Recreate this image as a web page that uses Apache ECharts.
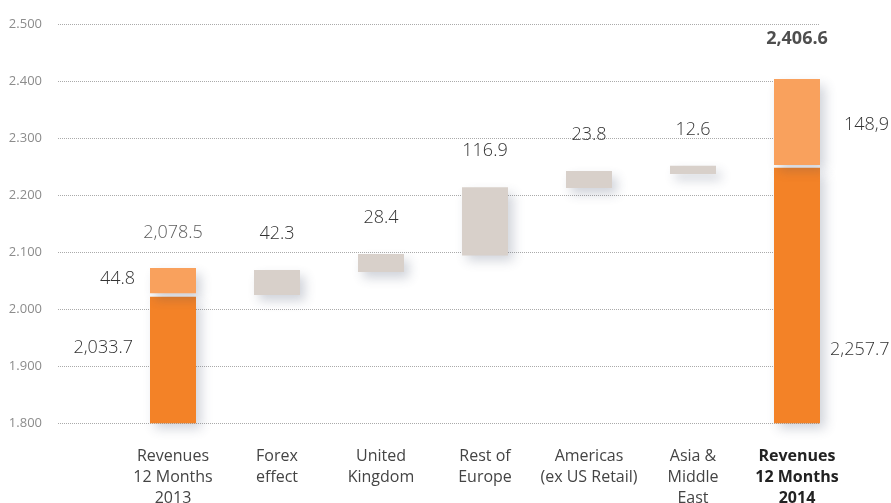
<!DOCTYPE html>
<html>
<head>
<meta charset="utf-8">
<script src="https://cdn.jsdelivr.net/npm/echarts@6/dist/echarts.min.js"></script>
<style>
html,body{margin:0;padding:0;background:#fff;}
#chart{width:891px;height:503px;}
</style>
</head>
<body>
<div id="chart"></div>
<script>
const categories = ['Revenues\n12 Months\n2013', 'Forex\neffect', 'United\nKingdom', 'Rest of\nEurope', 'Americas\n(ex US Retail)', 'Asia &\nMiddle\nEast', 'Revenues\n12 Months\n2014'];
const yMin = 1800, yMax = 2500, yStep = 100;

// floating step bars (low / high)
const stepLow  = [null, 2025.2, 2065.6, 2094.7, 2213.0, 2237.6, null];
const stepHigh = [null, 2069.1, 2097.2, 2214.3, 2242.9, 2252.2, null];
const stepLabels = ['', '42.3', '28.4', '116.9', '23.8', '12.6', ''];

// revenue bars
const revDark      = [2022.2, null, null, null, null, null, 2248.7];
const revLightLow  = [2028.2, null, null, null, null, null, 2253.4];
const revLightHigh = [2072.6, null, null, null, null, null, 2404.4];
const revDarkLabels  = ['2,033.7', '', '', '', '', '', '2,257.7'];
const revLightLabels = ['44.8', '', '', '', '', '', '148,9'];
const revTotalLabels = ['2,078.5', '', '', '', '', '', '2,406.6'];

const FONT = 'Open Sans';
const DARK = '#F38227', LIGHT = '#F9A15D', GRAY = '#D8D0CA';
const shadow = {shadowBlur: 11, shadowOffsetX: 5, shadowOffsetY: 6, shadowColor: 'rgba(60,70,100,0.24)'};
const lblStyle = {color: '#333333', fontSize: 18, fontFamily: FONT, fontWeight: 300, lineHeight: 20};

const isRev = i => revDark[i] != null;
const last = categories.length - 1;

const baseData = categories.map((c, i) => isRev(i) ? yMin : stepLow[i]);
const mainData = categories.map((c, i) => {
  if (isRev(i)) {
    const left = i === 0;
    return {
      value: revDark[i] - yMin,
      itemStyle: Object.assign({color: DARK}, shadow),
      label: Object.assign({show: true, position: left ? 'left' : 'right', distance: left ? 17 : 10,
        offset: [0, left ? -12 : 54], formatter: revDarkLabels[i]}, lblStyle)
    };
  }
  return {
    value: stepHigh[i] - stepLow[i],
    itemStyle: Object.assign({color: GRAY}, shadow),
    label: Object.assign({show: true, position: 'top', distance: 26, formatter: stepLabels[i]}, lblStyle)
  };
});
const gapData = categories.map((c, i) => isRev(i) ? revLightLow[i] - revDark[i] : '-');
const lightData = categories.map((c, i) => {
  if (!isRev(i)) return '-';
  const left = i === 0;
  return {
    value: revLightHigh[i] - revLightLow[i],
    label: Object.assign({show: true, position: left ? 'left' : 'right', distance: left ? 15 : 24,
      offset: [0, left ? -1.5 : 3], formatter: revLightLabels[i]}, lblStyle)
  };
});
const totalData = categories.map((c, i) => {
  if (!isRev(i)) return '-';
  const isLast = i === last;
  return {
    value: revLightHigh[i],
    label: Object.assign({}, lblStyle, {show: true, position: 'top', distance: isLast ? 30 : 25,
      formatter: revTotalLabels[i], fontWeight: isLast ? 'bold' : 300, color: isLast ? '#222' : '#333333'})
  };
});

const chart = echarts.init(document.getElementById('chart'), null, {renderer: 'canvas'});
chart.setOption({
  animation: false,
  backgroundColor: '#fff',
  grid: [
    {left: 58, right: 71, top: 24.5, bottom: 79.7, containLabel: false, outerBoundsMode: 'none'},
    {left: 121, right: 42, top: 24.5, bottom: 79.7, containLabel: false, outerBoundsMode: 'none'}
  ],
  xAxis: [
    {type: 'category', gridIndex: 0, data: ['a'], show: false},
    {type: 'category', gridIndex: 1,
      data: categories.map((c, i) => i === last ? {value: c, textStyle: {fontWeight: 'bold', color: '#222'}} : c),
      axisLine: {show: false}, axisTick: {show: false},
      axisLabel: {interval: 0, margin: 23, fontSize: 16, lineHeight: 21, color: '#444', fontFamily: FONT}}
  ],
  yAxis: [
    {type: 'value', gridIndex: 0, min: yMin, max: yMax, interval: yStep,
      axisLine: {show: false}, axisTick: {show: false},
      axisLabel: {margin: 16, fontSize: 13, color: '#8c8c8c', fontFamily: FONT, padding: [0, 0, 5, 0],
        formatter: v => (v / 1000).toFixed(3)},
      splitLine: {show: true, lineStyle: {type: 'dotted', color: '#aaaaaa', width: 1}}},
    {type: 'value', gridIndex: 1, min: yMin, max: yMax, interval: yStep, show: false,
      splitLine: {show: false}}
  ],
  series: [
    {type: 'bar', xAxisIndex: 1, yAxisIndex: 1, stack: 'w', barWidth: 46, clip: false,
      itemStyle: {color: 'rgba(0,0,0,0)'}, data: baseData, silent: true},
    {type: 'bar', xAxisIndex: 1, yAxisIndex: 1, stack: 'w', barWidth: 46, clip: false, data: mainData},
    {type: 'bar', xAxisIndex: 1, yAxisIndex: 1, stack: 'w', barWidth: 46, clip: false,
      itemStyle: {color: 'rgba(0,0,0,0)'}, data: gapData, silent: true},
    {type: 'bar', xAxisIndex: 1, yAxisIndex: 1, stack: 'w', barWidth: 46, clip: false,
      itemStyle: Object.assign({color: LIGHT}, shadow), data: lightData},
    {type: 'scatter', xAxisIndex: 1, yAxisIndex: 1, symbolSize: 1,
      itemStyle: {color: 'rgba(0,0,0,0)'}, data: totalData, silent: true}
  ]
});
</script>
</body>
</html>
